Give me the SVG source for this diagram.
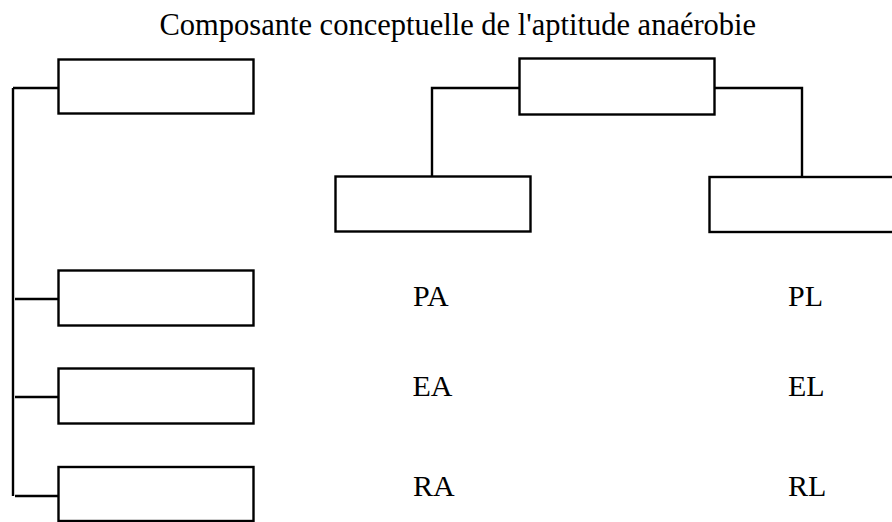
<svg xmlns="http://www.w3.org/2000/svg" width="892" height="522" viewBox="0 0 892 522">
<style>
.box{fill:#fff;stroke:#000;stroke-width:2.4}
.con{fill:none;stroke:#000;stroke-width:2.4}
text{font-family:"Liberation Serif","Times New Roman",serif;fill:#000}
.t{font-size:30.5px}
.l{font-size:30px}
</style>
<rect width="892" height="522" fill="#fff"/>
<text class="t" x="159.5" y="35">Composante conceptuelle de l'aptitude anaérobie</text>
<g id="connectors">
<path class="con" d="M13,88 V496"/>
<path class="con" d="M13,88 H58"/>
<path class="con" d="M15,299 H58"/>
<path class="con" d="M15,397 H58"/>
<path class="con" d="M15,496 H58"/>
<path class="con" d="M519,88 H432 V176"/>
<path class="con" d="M714,88 H802 V177"/>
</g>
<g id="box1"><rect class="box" x="58.5" y="59.5" width="195" height="54"/></g>
<g id="box2"><rect class="box" x="58.5" y="270.5" width="195" height="55"/></g>
<g id="box3"><rect class="box" x="58.5" y="368.5" width="195" height="55"/></g>
<g id="box4"><rect class="box" x="58.5" y="467" width="195" height="54"/></g>
<g id="top"><rect class="box" x="519.5" y="58.5" width="195" height="56"/></g>
<g id="midleft"><rect class="box" x="335.5" y="176.5" width="195" height="55"/></g>
<g id="midright"><rect class="box" x="709.5" y="177" width="195" height="55"/></g>
<g id="labels">
<text class="l" x="413" y="306">PA</text>
<text class="l" x="788" y="306">PL</text>
<text class="l" x="412.5" y="396">EA</text>
<text class="l" x="788" y="396">EL</text>
<text class="l" x="413" y="496">RA</text>
<text class="l" x="788" y="496">RL</text>
</g>
</svg>
